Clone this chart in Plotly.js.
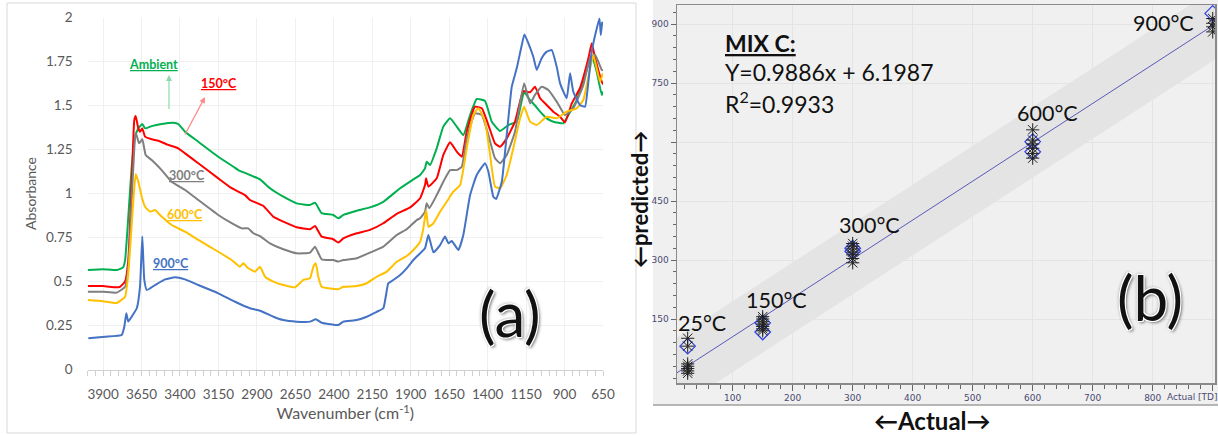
<!DOCTYPE html>
<html>
<head>
<meta charset="utf-8">
<script src="https://cdn.plot.ly/plotly-3.0.1.min.js"></script>
<style>html,body{margin:0;padding:0;background:#fff;}#chart{width:1218px;height:435px;}</style>
</head>
<body>
<div id="chart"></div>
<script>
// ---------- Panel (a): FTIR spectra ----------
const ambientWn = [4000,3900,3809,3770,3757,3736,3714,3692,3671,3645,3627,3584,3519,3443,3411,3367,3281,3151,3053,3021,2945,2880,2815,2728,2641,2555,2522,2479,2403,2371,2338,2251,2165,2078,1969,1883,1839,1807,1796,1774,1731,1688,1644,1601,1558,1514,1471,1417,1373,1319,1265,1211,1163,1124,1092,1059,1016,973,908,875,821,756,723,691,658,650];
const ambientAbs = [0.565,0.57,0.565,0.58,0.62,0.868,1.15,1.32,1.37,1.395,1.37,1.383,1.395,1.402,1.395,1.351,1.294,1.209,1.152,1.133,1.105,1.08,1.03,0.982,0.944,0.935,0.948,0.888,0.878,0.859,0.878,0.902,0.921,0.953,1.03,1.08,1.105,1.143,1.181,1.162,1.257,1.38,1.427,1.38,1.332,1.446,1.537,1.526,1.408,1.355,1.389,1.408,1.575,1.53,1.50,1.465,1.427,1.408,1.399,1.446,1.531,1.702,1.787,1.692,1.56,1.58];

const c150Wn = [4000,3900,3815,3790,3757,3736,3714,3697,3688,3671,3660,3645,3627,3584,3541,3476,3411,3367,3281,3151,3064,2977,2945,2858,2793,2728,2641,2555,2522,2479,2403,2371,2338,2251,2165,2078,1991,1904,1839,1807,1800,1785,1731,1688,1644,1601,1568,1536,1482,1438,1395,1352,1319,1276,1222,1168,1124,1092,1059,1016,973,929,897,853,800,745,723,701,658,650];
const c150Abs = [0.474,0.474,0.467,0.47,0.5,0.622,1.058,1.418,1.44,1.37,1.351,1.37,1.323,1.308,1.3,1.276,1.257,1.228,1.172,1.086,1.03,0.991,0.963,0.929,0.868,0.84,0.808,0.797,0.815,0.755,0.74,0.721,0.745,0.774,0.793,0.831,0.884,0.921,0.973,1.048,1.086,1.039,1.086,1.219,1.291,1.238,1.209,1.351,1.493,1.484,1.389,1.285,1.266,1.313,1.408,1.582,1.575,1.607,1.541,1.503,1.465,1.436,1.404,1.512,1.598,1.768,1.853,1.768,1.635,1.62];

const c300Wn = [4000,3900,3811,3757,3736,3714,3692,3686,3666,3645,3623,3584,3519,3454,3367,3281,3151,3064,2999,2956,2923,2880,2815,2728,2641,2555,2522,2479,2403,2371,2338,2251,2165,2078,1991,1926,1861,1839,1807,1796,1779,1731,1688,1644,1601,1568,1536,1482,1438,1395,1352,1319,1276,1222,1163,1124,1092,1049,1005,951,897,843,778,734,701,658,650];
const c300Abs = [0.442,0.442,0.437,0.47,0.584,0.963,1.323,1.342,1.285,1.308,1.219,1.19,1.133,1.067,1.02,0.963,0.878,0.831,0.802,0.802,0.774,0.758,0.717,0.683,0.66,0.664,0.698,0.626,0.622,0.613,0.622,0.632,0.664,0.698,0.764,0.797,0.849,0.859,0.897,0.944,0.916,0.991,1.067,1.133,1.133,1.152,1.313,1.455,1.446,1.332,1.2,1.172,1.219,1.351,1.626,1.512,1.56,1.607,1.588,1.522,1.446,1.484,1.616,1.768,1.787,1.702,1.70];

const c600Wn = [4000,3900,3811,3757,3736,3703,3688,3671,3649,3627,3595,3562,3530,3454,3367,3281,3151,3064,3010,2988,2956,2912,2880,2847,2793,2728,2652,2598,2555,2533,2517,2501,2479,2371,2338,2251,2186,2121,2056,1991,1926,1883,1839,1818,1800,1785,1752,1709,1666,1623,1579,1536,1493,1460,1417,1384,1352,1319,1276,1233,1189,1163,1124,1081,1016,951,886,821,778,734,713,691,669,652];
const c600Abs = [0.395,0.388,0.378,0.414,0.547,0.963,1.111,1.067,0.982,0.925,0.897,0.906,0.878,0.821,0.783,0.736,0.669,0.622,0.584,0.603,0.575,0.556,0.584,0.527,0.499,0.48,0.467,0.509,0.518,0.584,0.603,0.527,0.47,0.456,0.47,0.474,0.49,0.527,0.556,0.612,0.645,0.679,0.726,0.802,0.906,0.811,0.831,0.897,0.953,1.01,1.048,1.257,1.446,1.484,1.408,1.219,1.039,1.03,1.105,1.257,1.427,1.493,1.408,1.389,1.436,1.427,1.465,1.484,1.531,1.711,1.787,1.711,1.635,1.683];

const c900Wn = [3996,3888,3779,3762,3749,3736,3714,3681,3660,3645,3632,3616,3562,3497,3432,3367,3281,3151,3042,2945,2880,2793,2728,2641,2555,2517,2479,2371,2338,2251,2186,2121,2078,2046,2023,1969,1926,1883,1839,1807,1785,1752,1709,1677,1655,1633,1590,1558,1514,1471,1417,1395,1363,1345,1308,1276,1243,1211,1178,1161,1135,1103,1081,1049,1016,983,951,929,886,864,843,800,767,745,723,701,673,664,655];
const c900Abs = [0.177,0.186,0.196,0.243,0.319,0.272,0.3,0.348,0.47,0.755,0.509,0.452,0.48,0.512,0.524,0.512,0.48,0.433,0.385,0.348,0.334,0.3,0.281,0.272,0.272,0.285,0.266,0.253,0.272,0.281,0.3,0.328,0.348,0.49,0.503,0.537,0.575,0.622,0.66,0.689,0.764,0.666,0.707,0.755,0.717,0.73,0.679,0.764,0.991,1.105,1.172,1.124,0.982,0.969,1.067,1.332,1.607,1.711,1.844,1.904,1.853,1.777,1.702,1.768,1.806,1.815,1.72,1.626,1.541,1.683,1.578,1.503,1.493,1.635,1.806,1.9,1.995,1.9,1.976];

const seriesNames = ['Ambient','150°C','300°C','600°C','900°C'];
const seriesColors = ['#00B050','#FF0000','#7F7F7F','#FFC000','#4472C4'];

// ---------- Panel (b): predicted vs actual ----------
const actualTemps = [25, 150, 300, 600, 900];
const predAsterisk = [
  [101, 81, 36, 30, 24, 18, 12],
  [156, 150, 143, 137, 131, 125, 120],
  [342, 335, 328, 320, 313, 304, 293],
  [631, 605, 595, 584, 571, 559],
  [914, 902, 893, 880]
];
const predDiamond = [
  [81],
  [140, 117],
  [330, 322],
  [601, 575],
  [927]
];
const fitSlope = 0.9886;
const fitIntercept = 6.1987;
const bandHalf = 90;
const fitXEnds = [0, 940];

const W = 1218, H = 435;
const px = v => v / W;
const py = v => 1 - v / H;

const traces = [];
const wnArr = [ambientWn, c150Wn, c300Wn, c600Wn, c900Wn];
const absArr = [ambientAbs, c150Abs, c300Abs, c600Abs, c900Abs];
for (let i = 0; i < 5; i++) {
  traces.push({
    type: 'scatter', mode: 'lines', name: seriesNames[i],
    x: wnArr[i], y: absArr[i], xaxis: 'x', yaxis: 'y',
    line: {color: seriesColors[i], width: 2, shape: 'spline', smoothing: 0.4},
    hoverinfo: 'skip'
  });
}

// prediction band
const bandX = [fitXEnds[0], fitXEnds[1], fitXEnds[1], fitXEnds[0]];
const bandY = [
  fitSlope * fitXEnds[0] + fitIntercept - bandHalf,
  fitSlope * fitXEnds[1] + fitIntercept - bandHalf,
  fitSlope * fitXEnds[1] + fitIntercept + bandHalf,
  fitSlope * fitXEnds[0] + fitIntercept + bandHalf
];
traces.push({type:'scatter', mode:'lines', x: bandX, y: bandY, fill:'toself',
  fillcolor:'#e4e4e4', line:{width:0, color:'rgba(0,0,0,0)'}, xaxis:'x2', yaxis:'y2', hoverinfo:'skip'});
traces.push({type:'scatter', mode:'lines', x: fitXEnds, y: fitXEnds.map(v => fitSlope * v + fitIntercept),
  line:{color:'#5a5ab8', width:1}, xaxis:'x2', yaxis:'y2', hoverinfo:'skip'});

const astX = [], astY = [], diaX = [], diaY = [];
actualTemps.forEach((t, i) => {
  predAsterisk[i].forEach(v => { astX.push(t); astY.push(v); });
  predDiamond[i].forEach(v => { diaX.push(t); diaY.push(v); });
});
traces.push({type:'scatter', mode:'markers', x: diaX, y: diaY, xaxis:'x2', yaxis:'y2',
  marker:{symbol:'diamond-open', size:12, color:'#3040e0', line:{color:'#3040e0', width:1.2}}});
traces.push({type:'scatter', mode:'markers', x: astX, y: astY, xaxis:'x2', yaxis:'y2',
  marker:{symbol:'asterisk-open', size:11, color:'#222', line:{color:'#222', width:1}}});

const lblFont = {family:'Lato, sans-serif', size:13.5, color:'#595959'};

const layout = {
  width: W, height: H, margin:{l:0, r:0, t:0, b:0},
  paper_bgcolor:'#ffffff', plot_bgcolor:'#ffffff', showlegend:false,
  xaxis: {
    domain:[px(87.7), px(603)], range:[4000, 650], anchor:'y',
    tick0:650, dtick:250, ticks:'outside', ticklen:5, tickcolor:'#d0d0d0',
    showline:true, linecolor:'#d0d0d0', linewidth:1,
    showgrid:true, gridcolor:'#f0f0f0', zeroline:false,
    minor:{tick0:650, dtick:50, ticks:'outside', ticklen:5, tickcolor:'#d0d0d0', showgrid:false},
    tickfont: lblFont, ticklabelstandoff: 7,
    title:{text:'Wavenumber (cm<sup>-1</sup>)', font:{family:'Lato, sans-serif', size:16, color:'#595959'}, standoff:6}
  },
  yaxis: {
    domain:[py(369.5), py(17.5)], range:[0, 2], anchor:'x',
    dtick:0.25, tick0:0, ticks:'', showline:false,
    showgrid:true, gridcolor:'#f0f0f0', zeroline:false,
    ticklabelstandoff: 14, tickfont: lblFont,
    title:{text:'Absorbance', font:{family:'Lato, sans-serif', size:14, color:'#595959'}, standoff:6}
  },
  xaxis2: {
    domain:[px(677), px(1215)], range:[7.2, 903.8], anchor:'y2',
    tickvals:[100,200,300,400,500,600,700,800,900], ticktext:['100','200','300','400','500','600','700','800',''],
    ticks:'outside', ticklen:6, tickcolor:'#666', showline:true, mirror:true, linecolor:'#8a8a8a', linewidth:1.5,
    showgrid:true, gridcolor:'#e4e4e4', zeroline:false,
    minor:{tick0:0, dtick:20, ticks:'outside', ticklen:4, tickcolor:'#666', showgrid:false},
    tickfont:{family:'DejaVu Sans, sans-serif', size:9, color:'#4a4a70'}
  },
  yaxis2: {
    domain:[py(383), py(5)], range:[-12.7, 948.4], anchor:'x2',
    tickvals:[150,300,450,600,750,900], ticktext:['150','300','450','','750','900'],
    ticks:'outside', ticklen:5, tickcolor:'#666', showline:true, mirror:true, linecolor:'#8a8a8a', linewidth:1.5,
    showgrid:true, gridcolor:'#e4e4e4', zeroline:false,
    minor:{tick0:0, dtick:30, ticks:'outside', ticklen:3, tickcolor:'#666', showgrid:false},
    tickfont:{family:'DejaVu Sans, sans-serif', size:9, color:'#4a4a70'}
  },
  shapes: [
    {type:'rect', xref:'paper', yref:'paper', x0:px(7), x1:px(636), y0:py(433), y1:py(3),
     line:{color:'#d9d9d9', width:1}, fillcolor:'rgba(0,0,0,0)', layer:'below'},
    {type:'rect', xref:'paper', yref:'paper', x0:px(653), x1:1, y0:py(405), y1:1,
     line:{width:0}, fillcolor:'#f0f0f0', layer:'below'},
    {type:'line', xref:'paper', yref:'paper', x0:px(653), x1:1, y0:py(405), y1:py(405),
     line:{color:'#a0a0a0', width:1.5}, layer:'below'}
  ],
  annotations: []
};

const A = layout.annotations;
function lab(text, x, y, font, extra) {
  A.push(Object.assign({text, x:px(x), y:py(y), xref:'paper', yref:'paper', showarrow:false,
    xanchor:'center', yanchor:'middle', font}, extra || {}));
}
const seriesLabelPos = [[153,64],[219,83],[187,175],[185,214],[171,263]];
seriesNames.forEach((n, i) => {
  lab('<b>' + n + '</b>', seriesLabelPos[i][0], seriesLabelPos[i][1],
    {family:'Lato, sans-serif', size:12.5, color:seriesColors[i], lineposition:'under'});
});
// arrows
A.push({x:px(169), y:py(75), xref:'paper', yref:'paper', ax:0, ay:44, text:' ', showarrow:true,
  arrowhead:2, arrowsize:1, arrowwidth:1.2, arrowcolor:'#8fd9a8'});
A.push({x:px(205), y:py(97), xref:'paper', yref:'paper', ax:-23, ay:43, text:' ', showarrow:true,
  arrowhead:2, arrowsize:1, arrowwidth:1.2, arrowcolor:'#ff8a8a'});

const bigShadow = '1px 1px 0 #fff, -1px -1px 0 #fff, 1px -1px 0 #fff, -1px 1px 0 #fff, 2px 2px 3px #777, -1px -1px 3px #999';
lab('(a)', 510, 313, {family:'Lato, sans-serif', size:62, color:'#111', shadow:bigShadow});
lab('(b)', 1150, 297, {family:'Lato, sans-serif', size:62, color:'#111', shadow:bigShadow});

const rFont = {family:'Lato, sans-serif', size:23, color:'#111'};
lab('<b>MIX C:</b>', 723, 43, Object.assign({}, rFont, {lineposition:'under'}), {xanchor:'left'});
lab('Y=0.9886x + 6.1987', 723, 72, rFont, {xanchor:'left'});
lab('R<sup>2</sup>=0.9933', 723, 102, rFont, {xanchor:'left'});

const tFont = {family:'Lato, sans-serif', size:21.5, color:'#111'};
const tempLabels = ['25°C','150°C','300°C','600°C','900°C'];
const tempLabelPos = [[702,323],[776,300],[869,225],[1047,113],[1163,23]];
tempLabels.forEach((t, i) => lab(t, tempLabelPos[i][0], tempLabelPos[i][1], tFont));

lab('Actual [TD]', 1192, 397, {family:'DejaVu Sans, sans-serif', size:9, color:'#4a4a70'});
lab('<b>←Actual→</b>', 932, 420, {family:'Lato, DejaVu Sans, sans-serif', size:24, color:'#111'});
lab('<b>←predicted→</b>', 639, 200, {family:'Lato, DejaVu Sans, sans-serif', size:22, color:'#111'}, {textangle:-90});

Plotly.newPlot('chart', traces, layout, {staticPlot:true, displayModeBar:false});
</script>
</body>
</html>
